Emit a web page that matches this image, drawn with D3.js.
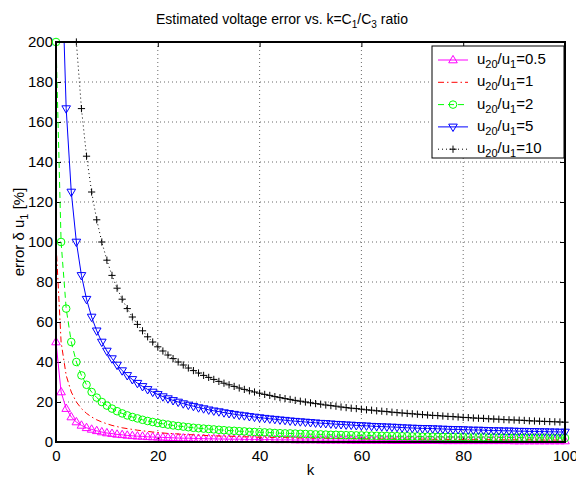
<!DOCTYPE html>
<html>
<head>
<meta charset="utf-8">
<script src="https://cdn.jsdelivr.net/npm/d3@7"></script>
<style>
body { margin: 0; background: #fff; }
svg { display: block; font-family: "Liberation Sans", Arial, sans-serif; }
</style>
</head>
<body>
<div id="chart"></div>
<script>
// estimated error [%] for k = 0, 1, 2, ... 100 (one value per integer k)
var err05 = [50, 25, 16.7, 12.5, 10, 8.3, 7.1, 6.3, 5.6, 5,
    4.5, 4.2, 3.8, 3.6, 3.3, 3.1, 2.9, 2.8, 2.6, 2.5,
    2.4, 2.3, 2.2, 2.1, 2.0, 1.9, 1.9, 1.8, 1.7, 1.7,
    1.6, 1.6, 1.5, 1.5, 1.4, 1.4, 1.4, 1.3, 1.3, 1.3,
    1.2, 1.2, 1.2, 1.1, 1.1, 1.1, 1.1, 1.0, 1.0, 1.0,
    1.0, 1.0, 0.9, 0.9, 0.9, 0.9, 0.9, 0.9, 0.8, 0.8,
    0.8, 0.8, 0.8, 0.8, 0.8, 0.8, 0.7, 0.7, 0.7, 0.7,
    0.7, 0.7, 0.7, 0.7, 0.7, 0.7, 0.6, 0.6, 0.6, 0.6,
    0.6, 0.6, 0.6, 0.6, 0.6, 0.6, 0.6, 0.6, 0.6, 0.6,
    0.5, 0.5, 0.5, 0.5, 0.5, 0.5, 0.5, 0.5, 0.5, 0.5, 0.5];
var err1 = [100, 50, 33.3, 25, 20, 16.7, 14.3, 12.5, 11.1, 10,
    9.1, 8.3, 7.7, 7.1, 6.7, 6.3, 5.9, 5.6, 5.3, 5,
    4.8, 4.5, 4.3, 4.2, 4, 3.8, 3.7, 3.6, 3.4, 3.3,
    3.2, 3.1, 3.0, 2.9, 2.9, 2.8, 2.7, 2.6, 2.6, 2.5,
    2.4, 2.4, 2.3, 2.3, 2.2, 2.2, 2.1, 2.1, 2.0, 2.0,
    2.0, 1.9, 1.9, 1.9, 1.8, 1.8, 1.8, 1.7, 1.7, 1.7,
    1.6, 1.6, 1.6, 1.6, 1.5, 1.5, 1.5, 1.5, 1.4, 1.4,
    1.4, 1.4, 1.4, 1.4, 1.3, 1.3, 1.3, 1.3, 1.3, 1.3,
    1.2, 1.2, 1.2, 1.2, 1.2, 1.2, 1.1, 1.1, 1.1, 1.1,
    1.1, 1.1, 1.1, 1.1, 1.1, 1.0, 1.0, 1.0, 1.0, 1.0, 1.0];
var err2 = [200, 100, 66.7, 50, 40, 33.3, 28.6, 25, 22.2, 20,
    18.2, 16.7, 15.4, 14.3, 13.3, 12.5, 11.8, 11.1, 10.5, 10,
    9.5, 9.1, 8.7, 8.3, 8, 7.7, 7.4, 7.1, 6.9, 6.7,
    6.5, 6.3, 6.1, 5.9, 5.7, 5.6, 5.4, 5.3, 5.1, 5,
    4.9, 4.8, 4.7, 4.5, 4.4, 4.3, 4.3, 4.2, 4.1, 4,
    3.9, 3.8, 3.8, 3.7, 3.6, 3.6, 3.5, 3.4, 3.4, 3.3,
    3.3, 3.2, 3.2, 3.1, 3.1, 3.0, 3.0, 2.9, 2.9, 2.9,
    2.8, 2.8, 2.7, 2.7, 2.7, 2.6, 2.6, 2.6, 2.5, 2.5,
    2.5, 2.4, 2.4, 2.4, 2.4, 2.3, 2.3, 2.3, 2.2, 2.2,
    2.2, 2.2, 2.2, 2.1, 2.1, 2.1, 2.1, 2.0, 2.0, 2.0, 2.0];
var err5 = [500, 250, 166.7, 125, 100, 83.3, 71.4, 62.5, 55.6, 50,
    45.5, 41.7, 38.5, 35.7, 33.3, 31.3, 29.4, 27.8, 26.3, 25,
    23.8, 22.7, 21.7, 20.8, 20, 19.2, 18.5, 17.9, 17.2, 16.7,
    16.1, 15.6, 15.2, 14.7, 14.3, 13.9, 13.5, 13.2, 12.8, 12.5,
    12.2, 11.9, 11.6, 11.4, 11.1, 10.9, 10.6, 10.4, 10.2, 10,
    9.8, 9.6, 9.4, 9.3, 9.1, 8.9, 8.8, 8.6, 8.5, 8.3,
    8.2, 8.1, 7.9, 7.8, 7.7, 7.6, 7.5, 7.4, 7.2, 7.1,
    7.0, 6.9, 6.8, 6.8, 6.7, 6.6, 6.5, 6.4, 6.3, 6.3,
    6.2, 6.1, 6.0, 6.0, 5.9, 5.8, 5.7, 5.7, 5.6, 5.6,
    5.5, 5.4, 5.4, 5.3, 5.3, 5.2, 5.2, 5.1, 5.1, 5.0, 5.0];
var err10 = [1000, 500, 333.3, 250, 200, 166.7, 142.9, 125, 111.1, 100,
    90.9, 83.3, 76.9, 71.4, 66.7, 62.5, 58.8, 55.6, 52.6, 50,
    47.6, 45.5, 43.5, 41.7, 40, 38.5, 37.0, 35.7, 34.5, 33.3,
    32.3, 31.3, 30.3, 29.4, 28.6, 27.8, 27.0, 26.3, 25.6, 25,
    24.4, 23.8, 23.3, 22.7, 22.2, 21.7, 21.3, 20.8, 20.4, 20,
    19.6, 19.2, 18.9, 18.5, 18.2, 17.9, 17.5, 17.2, 16.9, 16.7,
    16.4, 16.1, 15.9, 15.6, 15.4, 15.2, 14.9, 14.7, 14.5, 14.3,
    14.1, 13.9, 13.7, 13.5, 13.3, 13.2, 13.0, 12.8, 12.7, 12.5,
    12.3, 12.2, 12.0, 11.9, 11.8, 11.6, 11.5, 11.4, 11.2, 11.1,
    11.0, 10.9, 10.8, 10.6, 10.5, 10.4, 10.3, 10.2, 10.1, 10.0, 9.9];
var ratioLabels = ["0.5", "1", "2", "5", "10"];
var xTicks = [0, 20, 40, 60, 80, 100];
var yTicks = [0, 20, 40, 60, 80, 100, 120, 140, 160, 180, 200];

var series = [
    {label: ratioLabels[0], values: err05, color: "#ff00ff", dash: null, marker: "up"},
    {label: ratioLabels[1], values: err1, color: "#ff0000", dash: "6,3,1.5,3", marker: null},
    {label: ratioLabels[2], values: err2, color: "#00ff00", dash: "6,4", marker: "circle"},
    {label: ratioLabels[3], values: err5, color: "#0000ff", dash: null, marker: "down"},
    {label: ratioLabels[4], values: err10, color: "#000000", dash: "1,3", marker: "plus"}
];

var W = 576, H = 479;
var pLeft = 56, pRight = 565, pTop = 42, pBottom = 442;

var svg = d3.select("#chart").append("svg")
    .attr("width", W)
    .attr("height", H);

var x = d3.scaleLinear().domain([0, 100]).range([pLeft, pRight]);
var y = d3.scaleLinear().domain([0, 200]).range([pBottom, pTop]);

svg.append("defs").append("clipPath").attr("id", "plotclip")
    .append("rect")
    .attr("x", pLeft).attr("y", pTop)
    .attr("width", pRight - pLeft).attr("height", pBottom - pTop);

//grid
var grid = svg.append("g");
grid.selectAll(".gx").data(xTicks.slice(1, -1)).enter().append("line")
    .attr("x1", d => x(d)).attr("x2", d => x(d))
    .attr("y1", pTop).attr("y2", pBottom)
    .attr("stroke", "#444").attr("stroke-width", 0.8)
    .attr("stroke-dasharray", "1,3");
grid.selectAll(".gy").data(yTicks.slice(1, -1)).enter().append("line")
    .attr("y1", d => y(d)).attr("y2", d => y(d))
    .attr("x1", pLeft).attr("x2", pRight)
    .attr("stroke", "#444").attr("stroke-width", 0.8)
    .attr("stroke-dasharray", "1,3");

//axes, ticks inside on all four sides
var tl = 5;
var xAxisB = d3.axisBottom(x).tickValues(xTicks).tickSizeInner(-tl).tickSizeOuter(0).tickPadding(8);
var xAxisT = d3.axisTop(x).tickValues(xTicks).tickSizeInner(-tl).tickSizeOuter(0).tickFormat("");
var yAxisL = d3.axisLeft(y).tickValues(yTicks).tickSizeInner(-tl).tickSizeOuter(0).tickPadding(3);
var yAxisR = d3.axisRight(y).tickValues(yTicks).tickSizeInner(-tl).tickSizeOuter(0).tickFormat("");

function styleAxis(g) {
    g.select(".domain").remove();
    g.selectAll(".tick line").attr("stroke", "#000").attr("stroke-width", 1);
    g.selectAll(".tick text").attr("fill", "#000").attr("font-size", 15)
        .attr("font-family", "Liberation Sans, Arial, sans-serif");
}
svg.append("g").attr("transform", "translate(0," + pBottom + ")").call(xAxisB).call(styleAxis);
svg.append("g").attr("transform", "translate(0," + pTop + ")").call(xAxisT).call(styleAxis);
svg.append("g").attr("transform", "translate(" + pLeft + ",0)").call(yAxisL).call(styleAxis);
svg.append("g").attr("transform", "translate(" + pRight + ",0)").call(yAxisR).call(styleAxis);

//curves
var line = d3.line()
    .x((d, i) => x(i))
    .y(d => y(d));

function markerPath(type) {
    if (type === "up") return "M0,-4.6L4.3,2.8L-4.3,2.8Z";
    if (type === "down") return "M0,4.6L4.3,-2.8L-4.3,-2.8Z";
    if (type === "plus") return "M-3.6,0H3.6M0,-3.6V3.6";
    return null;
}

var plot = svg.append("g");
series.forEach(function (s) {
    plot.append("path")
        .attr("d", line(s.values))
        .attr("clip-path", "url(#plotclip)")
        .attr("fill", "none")
        .attr("stroke", s.color)
        .attr("stroke-width", 1)
        .attr("stroke-dasharray", s.dash);
    if (!s.marker) return;
    var pts = s.values.map((v, i) => [i, v]).filter(p => p[1] <= 200);
    if (s.marker === "circle") {
        plot.append("g").selectAll("circle").data(pts).enter().append("circle")
            .attr("cx", p => x(p[0])).attr("cy", p => y(p[1]))
            .attr("r", 3.8)
            .attr("fill", "none").attr("stroke", s.color).attr("stroke-width", 1);
    } else {
        plot.append("g").selectAll("path").data(pts).enter().append("path")
            .attr("transform", p => "translate(" + x(p[0]) + "," + y(p[1]) + ")")
            .attr("d", markerPath(s.marker))
            .attr("fill", "none").attr("stroke", s.color).attr("stroke-width", 1);
    }
});

//box
svg.append("rect")
    .attr("x", pLeft).attr("y", pTop)
    .attr("width", pRight - pLeft).attr("height", pBottom - pTop)
    .attr("fill", "none").attr("stroke", "#000").attr("stroke-width", 2);

//title and labels
var title = svg.append("text")
    .attr("x", 282).attr("y", 24)
    .attr("text-anchor", "middle")
    .attr("font-size", 14);
title.append("tspan").text("Estimated voltage error vs. k=C");
title.append("tspan").attr("dy", 4).attr("font-size", 10).text("1");
title.append("tspan").attr("dy", -4).text("/C");
title.append("tspan").attr("dy", 4).attr("font-size", 10).text("3");
title.append("tspan").attr("dy", -4).text(" ratio");

svg.append("text")
    .attr("x", x(50)).attr("y", 475)
    .attr("text-anchor", "middle")
    .attr("font-size", 15)
    .text("k");

var ylab = svg.append("text")
    .attr("transform", "translate(24," + 232 + ") rotate(-90)")
    .attr("text-anchor", "middle")
    .attr("font-size", 15);
ylab.append("tspan").text("error \u03b4 u");
ylab.append("tspan").attr("dy", 4).attr("font-size", 11).text("1");
ylab.append("tspan").attr("dy", -4).text(" [%]");

//legend
var lg = svg.append("g");
lg.append("rect")
    .attr("x", 432).attr("y", 46)
    .attr("width", 132).attr("height", 112)
    .attr("fill", "#fff").attr("stroke", "#000").attr("stroke-width", 1);
series.forEach(function (s, i) {
    var cy = 60 + i * 22.3;
    lg.append("line")
        .attr("x1", 438).attr("x2", 468)
        .attr("y1", cy).attr("y2", cy)
        .attr("stroke", s.color).attr("stroke-width", 1)
        .attr("stroke-dasharray", s.dash);
    if (s.marker === "circle") {
        lg.append("circle").attr("cx", 453).attr("cy", cy).attr("r", 3.8)
            .attr("fill", "none").attr("stroke", s.color);
    } else if (s.marker) {
        lg.append("path").attr("transform", "translate(453," + cy + ")")
            .attr("d", markerPath(s.marker))
            .attr("fill", "none").attr("stroke", s.color);
    }
    var t = lg.append("text").attr("x", 477).attr("y", cy + 4).attr("font-size", 15);
    t.append("tspan").text("u");
    t.append("tspan").attr("dy", 4).attr("font-size", 11).text("20");
    t.append("tspan").attr("dy", -4).text("/u");
    t.append("tspan").attr("dy", 4).attr("font-size", 11).text("1");
    t.append("tspan").attr("dy", -4).text("=" + s.label);
});
</script>
</body>
</html>
